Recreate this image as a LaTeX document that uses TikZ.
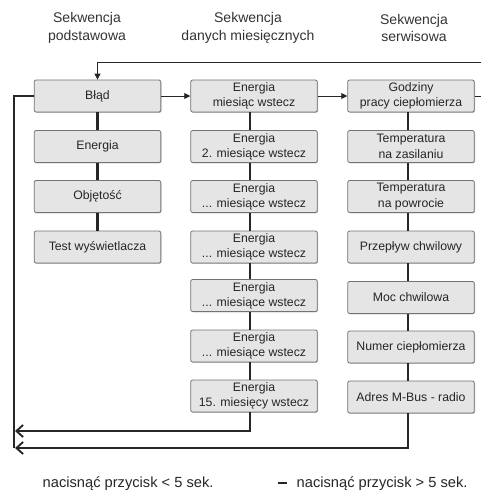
\documentclass[tikz,border=0pt]{standalone}
\usepackage{fontspec}
\setmainfont{Liberation Sans}
\usetikzlibrary{arrows.meta,shadows}
\begin{document}
\begin{tikzpicture}[x=0.75pt,y=-0.75pt,
  box/.style={draw=black!55,fill=black!10,rounded corners=1.5pt,line width=0.6pt,
    minimum width=95pt,minimum height=24pt,inner sep=0pt,align=center,
    text=black!85,font=\fontsize{9.2}{11.5}\selectfont,
    drop shadow={shadow xshift=0.5pt,shadow yshift=-0.6pt,fill=black!45,opacity=0.6}},
  hdr/.style={align=center,text=black!80,font=\fontsize{10.5}{13}\selectfont},
  leg/.style={anchor=west,text=black!85,font=\fontsize{11}{13}\selectfont},
  short/.style={line width=0.7pt,draw=black!85},
  long/.style={line width=2.2pt,draw=black!85},
  tipS/.style={-{Triangle[length=4.5pt,width=4.5pt]}},
  tipL/.style={-{Straight Barb[length=5pt,width=9pt,line width=1.4pt]}}]
\useasboundingbox (0,0) rectangle (480,493);

% headers
\node[hdr] (h1) at (87,28) {Sekwencja\\podstawowa};
\node[hdr] (h2) at (248,28) {Sekwencja\\danych miesięcznych};
\node[hdr] (h3) at (414,28) {Sekwencja\\serwisowa};

% column 1
\node[box] (a1) at (97.5,96) {Błąd};
\node[box] (a2) at (97.5,146.5) {Energia};
\node[box] (a3) at (97.5,196.5) {Objętość};
\node[box] (a4) at (97.5,247) {Test wyświetlacza};

% column 2
\node[box] (b1) at (254,96) {Energia\\miesiąc wstecz};
\node[box] (b2) at (254,146.5) {Energia\\2. miesiące wstecz};
\node[box] (b3) at (254,196.5) {Energia\\... miesiące wstecz};
\node[box] (b4) at (254,247) {Energia\\... miesiące wstecz};
\node[box] (b5) at (254,295.5) {Energia\\... miesiące wstecz};
\node[box] (b6) at (254,346) {Energia\\... miesiące wstecz};
\node[box] (b7) at (254,396) {Energia\\15. miesięcy wstecz};

% column 3
\node[box] (c1) at (411,96) {Godziny\\pracy ciepłomierza};
\node[box] (c2) at (411,146.5) {Temperatura\\na zasilaniu};
\node[box] (c3) at (411,196.5) {Temperatura\\na powrocie};
\node[box] (c4) at (411,247) {Przepływ chwilowy};
\node[box] (c5) at (411,297.5) {Moc chwilowa};
\node[box] (c6) at (411,347) {Numer ciepłomierza};
\node[box] (c7) at (411,397) {Adres M-Bus - radio};

% long-press connectors
\foreach \u/\v in {a1/a2,a2/a3,a3/a4}
  \draw[long] (\u.south) -- (\v.north);
\foreach \u/\v in {b1/b2,b2/b3,b3/b4,b4/b5,b5/b6,b6/b7}
  \draw[long] ([xshift=-3pt]\u.south) -- ([xshift=-3pt]\v.north);
\foreach \u/\v in {c1/c2,c2/c3,c3/c4,c4/c5,c5/c6,c6/c7}
  \draw[long] ([xshift=-2.25pt]\u.south) -- ([xshift=-2.25pt]\v.north);

% short-press connectors
\draw[short,tipS] (a1.east) -- (b1.west);
\draw[short,tipS] (b1.east) -- (c1.west);
\coordinate (topR) at (484,62);
\coordinate (topL) at (97.5,62);
\draw[short,tipS] (c1.east) -| (topR) -- (topL) -- (a1.north);

% return paths
\coordinate (retTop) at (14,96);
\coordinate (retBot) at (14,448);
\coordinate (ret1) at (15,431);
\coordinate (ret2) at (15,448);
\draw[long] (a1.west) -- (retTop) -- (retBot);
\draw[long,tipL] ([xshift=-3pt]b7.south) |- (ret1);
\draw[long,tipL] ([xshift=-2.25pt]c7.south) |- (ret2);

% legend
\node[leg] (l1) at (38,484) {nacisnąć przycisk < 5 sek.};
\coordinate (d1) at (278,483);
\coordinate (d2) at (287,483);
\draw[long] (d1) -- (d2);
\node[leg] (l2) at (292,484) {nacisnąć przycisk > 5 sek.};
\end{tikzpicture}
\end{document}
